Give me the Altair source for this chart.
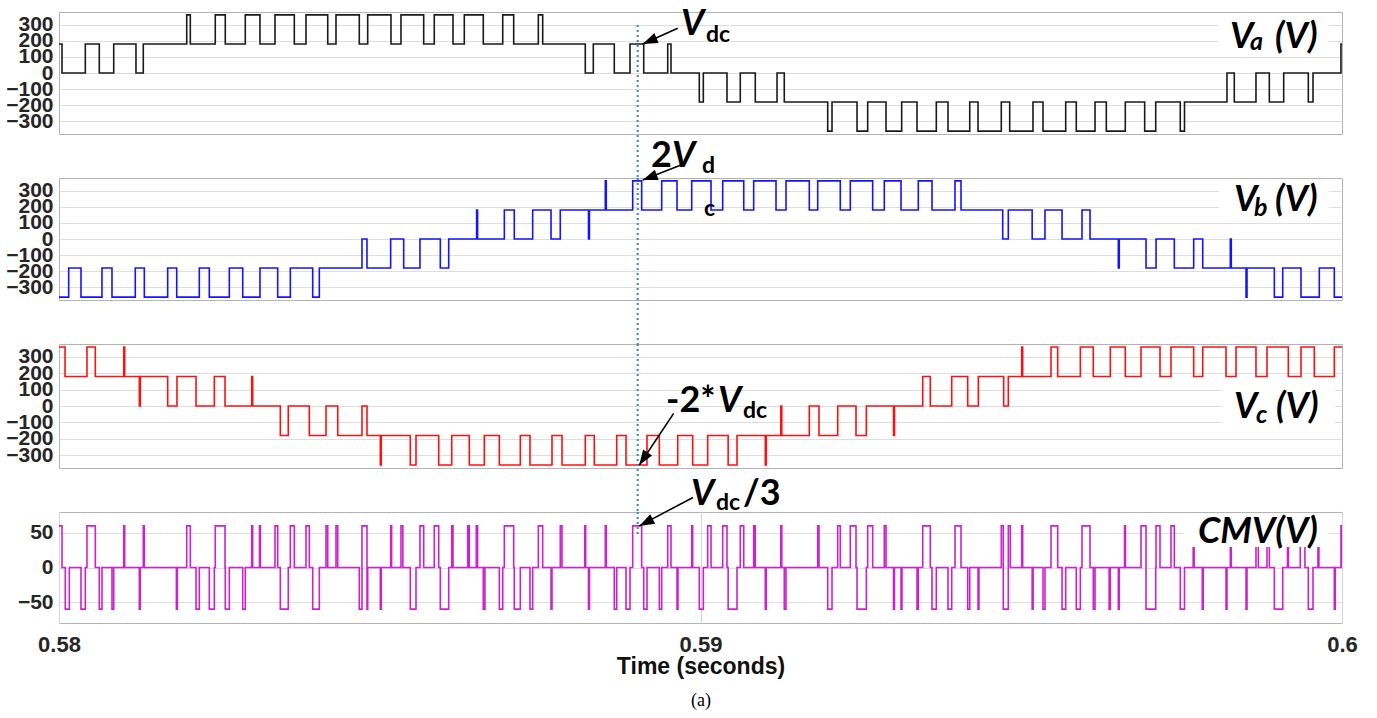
import altair as alt
import pandas as pd

T0 = 0.58          # start of the window (s)
SPAN_MS = 20.0     # window length (ms)

# ---- values: switching instants (ms after 0.58 s) and the level that starts there (V)
VA_T = [0, 0.047, 0.410, 0.628, 0.853, 1.200, 1.314, 1.991, 2.047, 2.436,
        2.592, 2.904, 3.133, 3.367, 3.668, 3.850, 4.189, 4.318, 4.681, 4.812,
        5.175, 5.331, 5.685, 5.850, 6.142, 6.318, 6.614, 6.917, 7.088, 7.472,
        7.540, 8.204, 8.329, 8.656, 8.901, 9.115, 9.489, 9.540, 9.981, 10.044,
        10.413, 10.620, 10.854, 11.193, 11.306, 11.983, 12.050, 12.440, 12.606, 12.892,
        13.136, 13.375, 13.676, 13.858, 14.197, 14.326, 14.689, 14.820, 15.183, 15.339,
        15.693, 15.858, 16.150, 16.326, 16.622, 16.924, 17.096, 17.479, 17.545, 18.207,
        18.321, 18.659, 18.867, 19.091, 19.475, 19.548, 19.984]
VA_V = [180, 0, 180, 0, 180, 0, 180, 360, 180, 360,
        180, 360, 180, 360, 180, 360, 180, 360, 180, 360,
        180, 360, 180, 360, 180, 360, 180, 360, 180, 360,
        180, 0, 180, 0, 180, 0, 180, 0, -180, 0,
        -180, 0, -180, 0, -180, -360, -180, -360, -180, -360,
        -180, -360, -180, -360, -180, -360, -180, -360, -180, -360,
        -180, -360, -180, -360, -180, -360, -180, -360, -180, 0,
        -180, 0, -180, 0, -180, 0, 180]

VB_T = [0, 0.151, 0.343, 0.670, 0.826, 1.189, 1.330, 1.694, 1.835, 2.187,
        2.343, 2.655, 2.864, 3.133, 3.409, 3.606, 3.955, 4.058, 4.723, 4.801,
        5.170, 5.373, 5.627, 5.944, 6.075, 6.510, 6.525, 6.942, 7.097, 7.384,
        7.670, 7.814, 8.254, 8.269, 8.516, 8.531, 8.943, 9.083, 9.395, 9.634,
        9.863, 10.164, 10.346, 10.674, 10.829, 11.177, 11.333, 11.696, 11.827, 12.179,
        12.335, 12.684, 12.865, 13.126, 13.395, 13.609, 13.967, 14.061, 14.711, 14.798,
        15.170, 15.370, 15.636, 15.947, 16.072, 16.513, 16.528, 16.945, 17.101, 17.386,
        17.688, 17.829, 18.259, 18.274, 18.504, 18.519, 18.945, 19.076, 19.361, 19.646,
        19.880]
VB_V = [-360, -180, -360, -180, -360, -180, -360, -180, -360, -180,
        -360, -180, -360, -180, -360, -180, -360, -180, 0, -180,
        0, -180, 0, -180, 0, 180, 0, 180, 0, 180,
        0, 180, 0, 180, 360, 180, 360, 180, 360, 180,
        360, 180, 360, 180, 360, 180, 360, 180, 360, 180,
        360, 180, 360, 180, 360, 180, 360, 180, 0, 180,
        0, 180, 0, 180, 0, -180, 0, -180, 0, -180,
        0, -180, 0, -180, -360, -180, -360, -180, -360, -180,
        -360]

VC_T = [0, 0.094, 0.436, 0.566, 1.009, 1.024, 1.252, 1.267, 1.694, 1.839,
        2.136, 2.421, 2.588, 3.004, 3.019, 3.450, 3.574, 3.902, 4.162, 4.345,
        4.723, 4.801, 5.009, 5.024, 5.476, 5.565, 5.919, 6.122, 6.396, 6.630,
        6.864, 7.191, 7.342, 7.685, 7.841, 8.204, 8.344, 8.694, 8.839, 9.166,
        9.358, 9.645, 9.878, 10.112, 10.431, 10.569, 11.010, 11.025, 11.252, 11.267,
        11.696, 11.847, 12.139, 12.424, 12.585, 13.009, 13.024, 13.464, 13.582, 13.916,
        14.165, 14.331, 14.726, 14.798, 15.007, 15.022, 15.464, 15.568, 15.921, 16.123,
        16.388, 16.622, 16.867, 17.163, 17.334, 17.688, 17.829, 18.192, 18.348, 18.659,
        18.831, 19.163, 19.361, 19.568, 19.880]
VC_V = [360, 180, 360, 180, 360, 180, 0, 180, 0, 180,
        0, 180, 0, 180, 0, -180, 0, -180, 0, -180,
        0, -180, -360, -180, -360, -180, -360, -180, -360, -180,
        -360, -180, -360, -180, -360, -180, -360, -180, -360, -180,
        -360, -180, -360, -180, -360, -180, -360, -180, 0, -180,
        0, -180, 0, -180, 0, -180, 0, 180, 0, 180,
        0, 180, 0, 180, 360, 180, 360, 180, 360, 180,
        360, 180, 360, 180, 360, 180, 360, 180, 360, 180,
        360, 180, 360, 180, 360]

# common-mode voltage: pulses away from 0 V (start ms, end ms, level V)
CMV_START = [0.000, 0.098, 0.343, 0.436, 0.628, 0.826, 1.009, 1.252, 1.314, 1.830,
             1.991, 2.136, 2.343, 2.436, 2.592, 2.864, 3.004, 3.125, 3.367, 3.450,
             3.606, 3.850, 3.955, 4.162, 4.318, 4.681, 4.723, 4.801, 5.009, 5.170,
             5.331, 5.476, 5.627, 5.850, 5.944, 6.122, 6.371, 6.505, 6.614, 6.864,
             6.942, 7.097, 7.342, 7.472, 7.670, 7.814, 8.195, 8.254, 8.516, 8.656,
             8.839, 8.943, 9.115, 9.358, 9.489, 9.634, 9.863, 9.981, 10.112, 10.346,
             10.431, 10.620, 10.829, 11.010, 11.252, 11.306, 11.827, 11.983, 12.139, 12.335,
             12.440, 12.606, 12.865, 13.009, 13.126, 13.375, 13.464, 13.609, 13.858, 13.967,
             14.165, 14.326, 14.689, 14.720, 14.798, 15.007, 15.170, 15.339, 15.464, 15.636,
             15.858, 15.947, 16.123, 16.370, 16.513, 16.610, 16.867, 16.945, 17.101, 17.334,
             17.479, 17.680, 17.822, 18.192, 18.259, 18.504, 18.659, 18.831, 18.945, 19.150,
             19.349, 19.475, 19.625, 19.880, 19.984]
CMV_END = [0.047, 0.161, 0.410, 0.566, 0.670, 0.853, 1.024, 1.267, 1.330, 1.845,
           2.047, 2.187, 2.421, 2.588, 2.655, 2.904, 3.019, 3.140, 3.409, 3.574,
           3.668, 3.902, 4.058, 4.189, 4.345, 4.723, 4.801, 4.812, 5.024, 5.185,
           5.360, 5.565, 5.685, 5.919, 6.075, 6.142, 6.396, 6.525, 6.640, 6.917,
           7.088, 7.191, 7.384, 7.540, 7.685, 7.841, 8.210, 8.269, 8.531, 8.694,
           8.901, 9.083, 9.166, 9.395, 9.540, 9.649, 9.878, 10.044, 10.164, 10.413,
           10.569, 10.674, 10.854, 11.025, 11.267, 11.333, 11.847, 12.050, 12.179, 12.424,
           12.585, 12.684, 12.892, 13.024, 13.141, 13.395, 13.582, 13.676, 13.916, 14.061,
           14.197, 14.341, 14.720, 14.798, 14.829, 15.022, 15.185, 15.370, 15.568, 15.693,
           15.921, 16.072, 16.150, 16.388, 16.528, 16.625, 16.945, 17.096, 17.163, 17.386,
           17.545, 17.695, 17.837, 18.207, 18.274, 18.519, 18.695, 18.867, 19.076, 19.165,
           19.422, 19.548, 19.640, 19.895, 20.000]
CMV_LEVEL = [60, -60, -60, 60, -60, -60, 60, -60, 60, -60,
             60, -60, -60, 60, -60, -60, 60, 60, 60, -60,
             60, 60, -60, 60, 60, -60, 60, -60, -60, 60,
             60, -60, 60, 60, -60, 60, 60, 60, -60, -60,
             60, -60, -60, 60, -60, 60, 60, -60, 60, -60,
             -60, 60, -60, -60, 60, -60, 60, -60, 60, 60,
             -60, 60, 60, -60, 60, -60, 60, -60, 60, 60,
             -60, 60, 60, -60, -60, -60, 60, -60, -60, 60,
             -60, -60, 60, -60, 60, 60, -60, -60, 60, -60,
             -60, 60, -60, -60, -60, 60, 60, -60, 60, 60,
             -60, 60, -60, -60, 60, -60, 60, 60, -60, 60,
             60, -60, 60, -60, 60]

PHASE_TICKS = [-300, -200, -100, 0, 100, 200, 300]
CMV_TICKS = [-50, 0, 50]
TIME_TICKS = [0.58, 0.59, 0.6]
MARKER_T = 0.589021   # dotted marker instant (s)

assert len(VA_T) == len(VA_V) and len(VB_T) == len(VB_V) and len(VC_T) == len(VC_V)
assert len(CMV_START) == len(CMV_END) == len(CMV_LEVEL)


def steps(times_ms, levels):
    rows = [{"t": T0 + tm / 1000.0, "v": lv, "i": k}
            for k, (tm, lv) in enumerate(zip(times_ms, levels))]
    rows.append({"t": T0 + SPAN_MS / 1000.0, "v": levels[-1], "i": len(rows)})
    return pd.DataFrame(rows)


cmv_t, cmv_v = [], []
if CMV_START[0] > 0:
    cmv_t.append(0.0)
    cmv_v.append(0)
for s, e, lv in zip(CMV_START, CMV_END, CMV_LEVEL):
    cmv_t += [s, e]
    cmv_v += [lv, 0]

df_a = steps(VA_T, VA_V)
df_b = steps(VB_T, VB_V)
df_c = steps(VC_T, VC_V)
df_m = steps(cmv_t, cmv_v)

W = 1283
XSC = alt.Scale(domain=[0.58, 0.6], nice=False, zero=False)
ONE = pd.DataFrame({"k": [0]})
HEAD = "M0,0L0.36,1L-0.36,1Z"
ANN = "Lato"
TICKF = "Liberation Sans"


def yaxis(vals):
    return alt.Axis(values=vals, title=None, grid=True, gridColor="#dedede", ticks=False,
                    domain=False, labelOverlap=False, labelPadding=6, labelFontSize=21,
                    labelFont=TICKF, labelFontWeight="bold", labelColor="#262626")


TIME_AXIS = alt.Axis(values=TIME_TICKS, format=".2~f", title="Time (seconds)", grid=True,
                     gridColor="#d4d4d4", ticks=False, domain=False, labelFlush=False,
                     labelOverlap=False, labelFontSize=22, labelFont=TICKF,
                     labelFontWeight="bold", labelColor="#262626", labelPadding=11,
                     titleFont=TICKF, titleFontSize=23, titleFontWeight="bold",
                     titleColor="#111111", titlePadding=0)


class Panel:
    def __init__(self, ydomain, yvals, xaxis):
        self.ysc = alt.Scale(domain=ydomain, nice=False, zero=False)
        self.yax = yaxis(yvals)
        self.xax = xaxis

    def X(self, f):
        return alt.X(f, scale=XSC, axis=self.xax)

    def Y(self, f):
        return alt.Y(f, scale=self.ysc, axis=self.yax)

    def wave(self, df, color):
        return alt.Chart(df).mark_line(interpolate="step-after", color=color,
                                       strokeWidth=1.6, clip=True).encode(
            x=self.X("t:Q"), y=self.Y("v:Q"), order="i:Q")

    def arrow(self, t1, v1, t2, v2, ang):
        d = pd.DataFrame({"t1": [t1], "v1": [v1], "t2": [t2], "v2": [v2]})
        line = alt.Chart(d).mark_rule(color="black", strokeWidth=1.6).encode(
            x=self.X("t1:Q"), y=self.Y("v1:Q"), x2="t2:Q", y2="v2:Q")
        head = alt.Chart(d).mark_point(shape=HEAD, filled=True, size=900, angle=ang,
                                       color="black", opacity=1, strokeWidth=0).encode(
            x=self.X("t2:Q"), y=self.Y("v2:Q"))
        return [line, head]

    def marker(self, y1, y2):
        return alt.Chart(pd.DataFrame({"t": [MARKER_T]})).mark_rule(
            color="#2f86d4", strokeWidth=2, strokeDash=[2, 3]).encode(
            x=self.X("t:Q"), y=alt.value(y1), y2=alt.value(y2))


def txt(s, x, y, size=36, italic=False, weight="bold", font=ANN, align="left"):
    return alt.Chart(ONE).mark_text(
        text=s, font=font, fontSize=size, fontStyle="italic" if italic else "normal",
        fontWeight=weight, align=align, baseline="alphabetic", color="black").encode(
        x=alt.value(x), y=alt.value(y))


def box(x1, x2, y1, y2):
    return alt.Chart(ONE).mark_rect(color="white").encode(
        x=alt.value(x1), x2=alt.value(x2), y=alt.value(y1), y2=alt.value(y2))


# ---- Va
A = Panel([-378, 378], PHASE_TICKS, None)
pa = alt.layer(
    A.wave(df_a, "#1a1a1a"),
    A.marker(13, 166),
    *A.arrow(0.589645, 277, 0.589099, 180, 246.8),
    txt("V", 622, 23, italic=True), txt("dc", 647, 30, size=23),
    box(1159, 1270, 4, 40),
    txt("V", 1171, 36, italic=True), txt("a", 1191, 38, size=25, italic=True),
    txt("(V)", 1216, 36, italic=True),
).properties(width=W, height=122)

# ---- Vb
B = Panel([-378, 378], PHASE_TICKS, None)
pb = alt.layer(
    B.wave(df_b, "#1414ff"),
    B.marker(0, 166),
    *B.arrow(0.589696, 458, 0.589099, 365, 249.5),
    txt("2", 592, -11), txt("V", 613, -11, italic=True), txt("d", 643, -5, size=23),
    txt("c", 645, 38, size=23),
    box(1160, 1270, 4, 42),
    txt("V", 1175, 33, italic=True), txt("b", 1195, 38, size=25, italic=True),
    txt("(V)", 1216, 33, italic=True),
).properties(width=W, height=122)

# ---- Vc
C = Panel([-378, 378], PHASE_TICKS, None)
pc = alt.layer(
    C.wave(df_c, "#ff1010"),
    C.marker(0, 168),
    *C.arrow(0.589582, -45, 0.589046, -360, 213.6),
    txt("-2*", 607, 68), txt("V", 659, 68, italic=True), txt("dc", 684, 74, size=23),
    box(1163, 1276, 45, 79),
    txt("V", 1175, 74, italic=True), txt("c", 1197, 79, size=25, italic=True),
    txt("(V)", 1217, 74, italic=True),
).properties(width=W, height=124)

# ---- CMV
M = Panel([-80, 80], CMV_TICKS, TIME_AXIS)
pm = alt.layer(
    M.wave(df_m, "#cc22cc"),
    M.marker(0, 25),
    *M.arrow(0.589883, 101, 0.589046, 60, 242.9),
    txt("V", 632, -7, italic=True), txt("dc", 657, -2, size=23), txt("/3", 684, -7),
    box(1125, 1270, 2, 35),
    txt("CMV(V)", 1139, 31, italic=True),
    txt("(a)", 642, 194, size=18, weight="normal", font="Liberation Serif", align="center"),
).properties(width=W, height=111)

chart = alt.vconcat(pa, pb, pc, pm, spacing=44, bounds="flush").properties(
    padding={"left": 5, "top": 5, "right": 10, "bottom": 5},
    background="white",
).configure_view(stroke="#b4b4b4", strokeWidth=1)

chart.save("out.html", embed_options={"renderer": "svg", "actions": False})
